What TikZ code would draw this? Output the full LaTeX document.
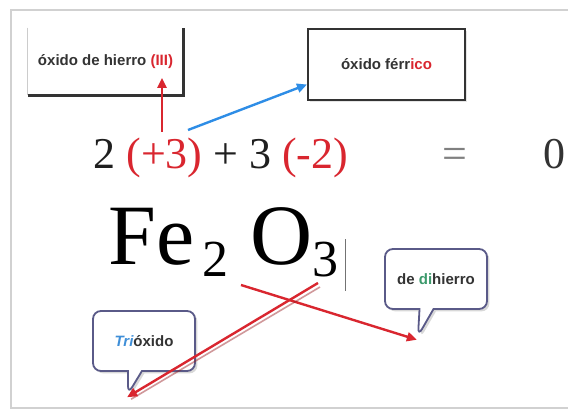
\documentclass[tikz,border=0pt]{standalone}
\usepackage{fontspec}
\setmainfont{Liberation Serif}
\setsansfont{Liberation Sans}
\usetikzlibrary{arrows.meta, shapes.callouts, shadows, calc}

\definecolor{ered}{HTML}{D9262F}
\definecolor{eblue}{HTML}{2E8DE6}
\definecolor{bubbleline}{HTML}{5A5A88}
\definecolor{tgreen}{HTML}{3C9A6C}
\definecolor{tblue}{HTML}{3F8FD8}

\begin{document}
\begin{tikzpicture}[
    x=0.5pt, y=-0.5pt,
    >={Triangle[length=5pt, width=4.5pt]},
    tagtext/.style ={font=\sffamily\bfseries\fontsize{7.5}{9}\selectfont, text=black!80},
    box/.style     ={tagtext, draw=black!80, line width=1pt, fill=white,
                     drop shadow={opacity=0.2, shadow xshift=1pt, shadow yshift=-1pt}},
    bubble/.style  ={tagtext, rectangle callout, rounded corners=4pt, draw=bubbleline,
                     line width=0.9pt, fill=white, minimum width=51pt, minimum height=30pt,
                     callout pointer width=7pt,
                     drop shadow={opacity=0.3, shadow xshift=1.2pt, shadow yshift=-1.2pt}},
    eq/.style      ={font=\fontsize{22}{26}\selectfont, anchor=base west, inner sep=0pt,
                     text=black!88},
    formula/.style ={font=\fontsize{43}{50}\selectfont, anchor=base west, inner sep=0pt},
    flow/.style    ={->, line width=1.2pt, ered},
    blueflow/.style={->, line width=1.2pt, eblue}
]
\useasboundingbox[fill=white] (0,0) rectangle (568,410);

% =================== Frame ===================
\draw[black!18, line width=1.2pt] (568,10) -- (11,10) -- (11,408) -- (568,408);

% =================== Name boxes (top) ===================
\node[tagtext, minimum width=77.5pt, minimum height=33.5pt] (oxhierro) at (105.5,61.5)
    {óxido de hierro {\color{ered}(III)}};
\draw[black!20, line width=0.8pt] (oxhierro.north west) -- (oxhierro.south west);
\draw[black!80, line width=1.3pt] (oxhierro.south west) -- (oxhierro.south east)
    -- (oxhierro.north east);

\node[box, minimum width=78.5pt, minimum height=35.5pt] (oxferrico) at (386.5,64.5)
    {óxido férr{\color{ered}ico}};

% =================== Valence sum ===================
\node[eq] (suma) at (93,169) {2 {\color{ered}(+3)} + 3 {\color{ered}(-2)}};
\node[eq, text=black!50] (igual) at (442,169) {=};
\node[eq, text=black!80] (cero) at (543,169) {0};

% =================== Formula ===================
\node[formula] (fe) at (108,265)
    {Fe\hspace{4pt}\raisebox{-6pt}{\fontsize{26}{26}\selectfont 2}\hspace{11pt}O\raisebox{-6pt}{\fontsize{26}{26}\selectfont 3}\hspace{3pt}{\color{black!55}\rule[-13pt]{0.6pt}{26pt}}};

% =================== Callouts (bottom) ===================
\node[bubble, callout absolute pointer={(418,336)}] (dihierro) at (436,279)
    {de {\color{tgreen}di}hierro};
\node[bubble, callout absolute pointer={(128,394)}] (trioxido) at (144,341)
    {{\color{tblue}\itshape Tri}óxido};

% --- Arrows ---
\coordinate (mas3) at (162,132);
\coordinate (romano) at (162,78);
\coordinate (tres) at (188,130);
\coordinate (fesub) at (241,285);
\coordinate (osub) at (318,283);

\draw[flow] (mas3) -- (romano);
\draw[blueflow] (tres) -- ($(oxferrico.west)+(0,20)$);
\draw[flow] (fesub) -- (dihierro.pointer);
\draw[ered!70!black, line width=0.8pt, opacity=0.45] ($(osub)+(2,4)$) -- ($(trioxido.pointer)+(4,2)$);
\draw[flow] (osub) -- (trioxido.pointer);

\end{tikzpicture}
\end{document}
